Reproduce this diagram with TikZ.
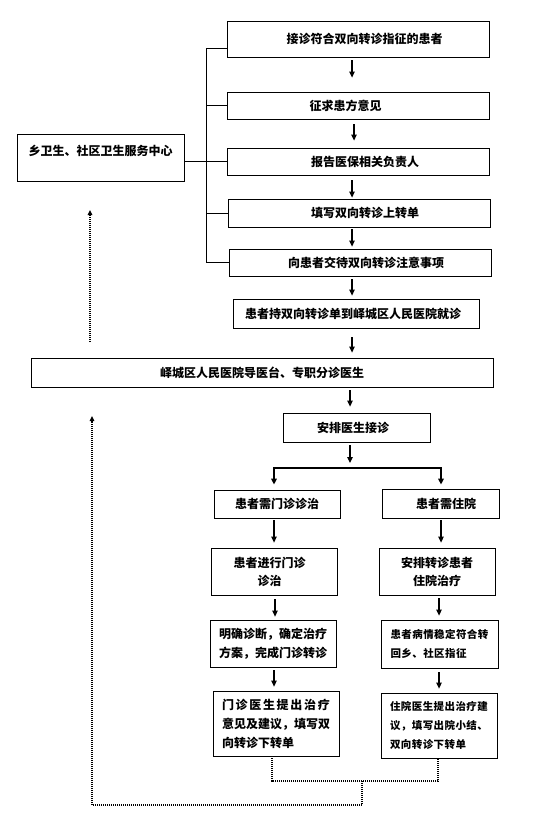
\documentclass[tikz,border=0pt]{standalone}
\usepackage{fontspec}
\setmainfont{Noto Sans CJK SC}
\usetikzlibrary{arrows.meta,calc}
\begin{document}
\begin{tikzpicture}[x=1pt,y=-1pt,
  box/.style={draw, line width=0.8pt, inner sep=0pt, font=\bfseries\fontsize{12}{19}\selectfont},
  smallbox/.style={box, font=\bfseries\fontsize{10.5}{19}\selectfont\addfontfeature{LetterSpace=4}},
  arr/.style={line width=1.2pt, -{Triangle[length=6pt,width=5.5pt]}},
  link/.style={line width=0.8pt},
  dot/.style={line width=1.3pt, dash pattern=on 1pt off 1pt},
  dotarr/.style={dot, -{Triangle[length=5pt,width=4.5pt]}}
]
\useasboundingbox (0,0) rectangle (538,821);

% columns for arrows
\coordinate (c350) at (350,0);
\coordinate (c352) at (352,0);
\coordinate (c354) at (354,0);
\coordinate (c274) at (274,0);
\coordinate (c275) at (275,0);
\coordinate (c439) at (439,0);
\coordinate (c441) at (441,0);

% boxes
\node[box, minimum width=262pt, minimum height=36pt] (b1) at (358,39) {\hspace*{13pt}接诊符合双向转诊指征的患者};
\node[box, minimum width=262pt, minimum height=27pt] (b2) at (358,105.5) {征求患方意见\hspace*{25pt}};
\node[box, minimum width=262pt, minimum height=27pt] (b3) at (358,161.5) {\hspace*{14pt}报告医保相关负责人};
\node[box, minimum width=262pt, minimum height=28pt] (b4) at (359,213) {\hspace*{12pt}填写双向转诊上转单};
\node[box, minimum width=262pt, minimum height=27pt] (b5) at (360,262.5) {\hspace*{12pt}向患者交待双向转诊注意事项};
\node[box, minimum width=167pt, minimum height=47pt, text depth=15pt] (left) at (100.5,157.5) {乡卫生、社区卫生服务中心};
\node[box, minimum width=246pt, minimum height=29pt] (b6) at (356,313.5) {患者持双向转诊单到峄城区人民医院就诊\hspace*{6pt}};
\node[box, minimum width=462pt, minimum height=29pt] (b7) at (262,372.5) {峄城区人民医院导医台、专职分诊医生};
\node[box, minimum width=147pt, minimum height=29pt] (b8) at (356.5,427.5) {安排医生接诊\hspace*{7pt}};
\node[box, minimum width=126pt, minimum height=28pt] (b9) at (277,504) {患者需门诊诊治};
\node[box, minimum width=117pt, minimum height=29pt] (b10) at (440.5,503.5) {\hspace*{11pt}患者需住院};
\node[box, minimum width=126pt, minimum height=47pt, align=center, font=\bfseries\fontsize{12}{18}\selectfont] (b11) at (274,571.5) {患者进行门诊\hspace*{9pt}\\诊治\hspace*{9pt}};
\node[box, minimum width=116pt, minimum height=47pt, align=center, font=\bfseries\fontsize{12}{18}\selectfont] (b12) at (437,571.5) {安排转诊患者\\住院治疗};
\node[box, minimum width=126pt, minimum height=47pt, text width=108pt, align=left] (b13) at (273,643.5) {明确诊断，确定治疗\\方案，完成门诊转诊};
\node[smallbox, minimum width=117pt, minimum height=48pt, text width=98pt, align=left] (b14) at (439.5,644) {患者病情稳定符合转\\回乡、社区指征};
\node[box, minimum width=126pt, minimum height=65pt, text width=108pt, align=left] (b15) at (276,723.5) {{\addfontfeature{LetterSpace=14}门诊医生提出治疗}\\意见及建议，填写双\\向转诊下转单};
\node[smallbox, minimum width=116pt, minimum height=65pt, text width=98pt, align=left] (b16) at (439,725.5) {住院医生提出治疗建\\议，填写出院小结、\\双向转诊下转单};

% left bracket
\coordinate (bus) at (206,48);
\draw[link] ([yshift=-9pt]b1.west) -| (bus |- b5.west) -- (b5.west);
\draw[link] (bus |- b2.west) -- (b2.west);
\draw[link] (left.east |- b3.west) -- (b3.west);
\draw[link] (bus |- b4.west) -- (b4.west);

% main arrows
\draw[arr, shorten <=3pt, shorten >=14pt] (b1.south -| c352) -- (b2.north -| c352);
\draw[arr, shorten <=5pt, shorten >=7pt] (b2.south -| c354) -- (b3.north -| c354);
\draw[arr, shorten <=5pt, shorten >=1pt] (b3.south -| c352) -- (b4.north -| c352);
\draw[arr, shorten <=2pt, shorten >=2pt] (b4.south -| c352) -- (b5.north -| c352);
\draw[arr, shorten <=3pt, shorten >=3pt] (b5.south -| c352) -- (b6.north -| c352);
\draw[arr, shorten <=9pt, shorten >=5pt] (b6.south -| c352) -- (b7.north -| c352);
\draw[arr, shorten <=3pt, shorten >=6pt] (b7.south -| c350) -- (b8.north -| c350);

% fork
\coordinate (fork) at (350,468);
\draw[arr, shorten <=3pt, shorten >=5pt] (b8.south -| c350) -- (fork);
\draw[line width=1.7pt, {Triangle[length=6pt,width=5.5pt]}-{Triangle[length=6pt,width=5.5pt]}, shorten <=5pt, shorten >=4pt]
  (b9.north -| c274) -- (fork -| c274) -- (fork -| c441) -- (b10.north -| c441);

% branch arrows
\draw[arr, shorten <=2pt, shorten >=5pt] (b9.south -| c274) -- (b11.north -| c274);
\draw[arr, shorten <=2pt, shorten >=5pt] (b10.south -| c441) -- (b12.north -| c441);
\draw[arr, shorten <=4pt, shorten >=3pt] (b11.south -| c275) -- (b13.north -| c275);
\draw[arr, shorten <=3pt, shorten >=4pt] (b12.south -| c439) -- (b14.north -| c439);
\draw[arr, shorten <=3pt, shorten >=4pt] (b13.south -| c274) -- (b15.north -| c274);
\draw[arr, shorten <=4pt, shorten >=4pt] (b14.south -| c439) -- (b16.north -| c439);

% dotted return paths
\coordinate (u1) at (90,342);
\coordinate (u2) at (90,210);
\draw[dotarr] (u1) -- (u2);
\coordinate (p15) at ([xshift=-4pt]b15.south);
\coordinate (p16) at ([xshift=-1pt]b16.south);
\coordinate (j) at (362,781);
\coordinate (k) at (92,805);
\coordinate (top) at (92,416);
\draw[dot] (p15) -- (p15 |- j) -- (p16 |- j) -- (p16);
\draw[dotarr] (j) -- (j |- k) -- (k) -- (top);
\end{tikzpicture}
\end{document}
